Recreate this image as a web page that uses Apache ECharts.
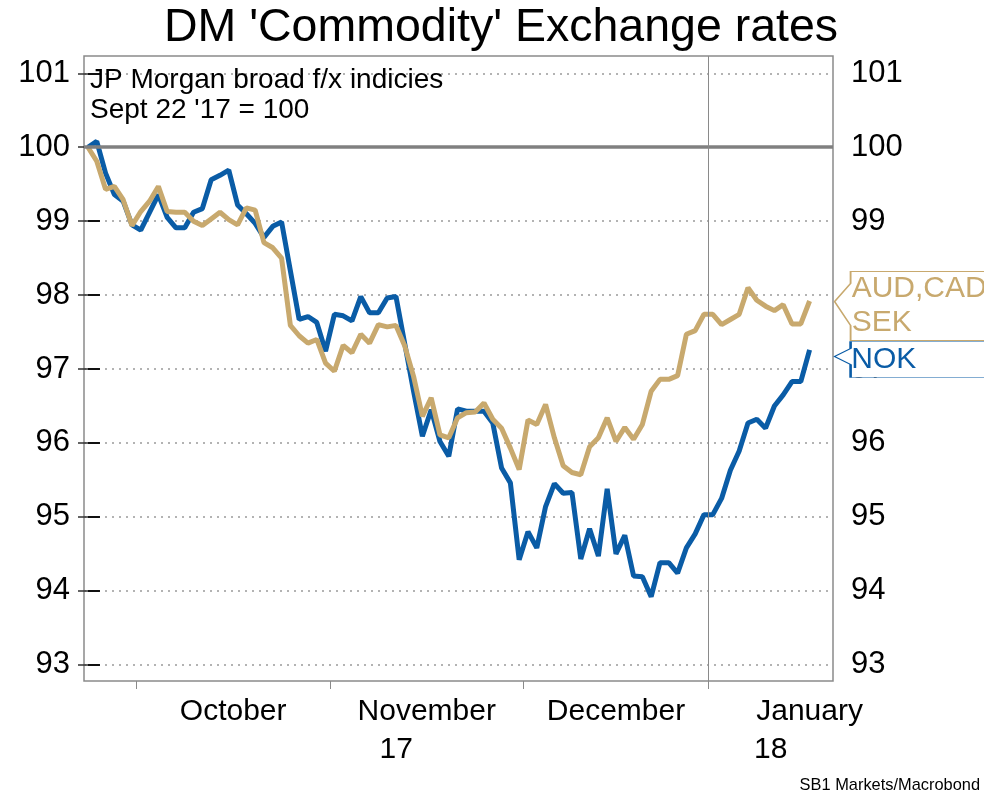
<!DOCTYPE html>
<html><head><meta charset="utf-8">
<script src="https://cdn.jsdelivr.net/npm/echarts@6/dist/echarts.min.js"></script>
<style>html,body{margin:0;padding:0;background:#fff}#c{width:984px;height:795px}</style>
</head><body><div id="c"></div>
<script>
const TITLE = "DM 'Commodity' Exchange rates";
const NOTE = ["JP Morgan broad f/x indicies", "Sept 22 '17 = 100"];
const SOURCE = "SB1 Markets/Macrobond";
const START_DATE = '2017-09-22';
const CAL_END = '2018-01-31';
const seriesNames = ['AUD,CAD\nSEK', 'NOK'];
const monthNames = ['January','February','March','April','May','June','July','August','September','October','November','December'];
const yTicks = [93, 94, 95, 96, 97, 98, 99, 100, 101];

// business-day observations, Sept 22 2017 = 100
const audCadSek = [
 100.00, 99.81, 99.43, 99.47, 99.29, 98.94, 99.13, 99.27, 99.47, 99.13,
 99.12, 99.12, 99.00, 98.94, 99.03, 99.12, 99.02, 98.95, 99.18, 99.15,
 98.71, 98.64, 98.50, 97.59, 97.45, 97.35, 97.40, 97.08, 96.97, 97.32,
 97.22, 97.47, 97.35, 97.60, 97.57, 97.59, 97.31, 96.90, 96.36, 96.61,
 96.11, 96.07, 96.34, 96.41, 96.42, 96.54, 96.32, 96.20, 95.93, 95.64,
 96.31, 96.25, 96.52, 96.07, 95.69, 95.60, 95.57, 95.95, 96.07, 96.34,
 96.02, 96.21, 96.05, 96.25, 96.70, 96.86, 96.86, 96.91, 97.47, 97.52,
 97.74, 97.74, 97.60, 97.67, 97.74, 98.10, 97.93, 97.85, 97.79, 97.87,
 97.61, 97.61, 97.92
];
const nok = [
 100.00, 100.08, 99.65, 99.36, 99.27, 98.95, 98.88, 99.12, 99.36, 99.05,
 98.91, 98.91, 99.12, 99.17, 99.56, 99.62, 99.69, 99.22, 99.10, 98.97,
 98.78, 98.93, 98.99, 98.33, 97.67, 97.71, 97.63, 97.24, 97.74, 97.72,
 97.65, 97.98, 97.76, 97.76, 97.96, 97.98, 97.34, 96.70, 96.09, 96.45,
 96.02, 95.82, 96.46, 96.43, 96.43, 96.43, 96.27, 95.66, 95.46, 94.42,
 94.80, 94.58, 95.14, 95.45, 95.32, 95.33, 94.43, 94.84, 94.47, 95.38,
 94.50, 94.75, 94.20, 94.19, 93.92, 94.38, 94.38, 94.24, 94.58, 94.77,
 95.03, 95.03, 95.25, 95.63, 95.89, 96.27, 96.32, 96.20, 96.50, 96.65,
 96.83, 96.83, 97.26
];

const X_MIN = -0.45, X_MAX = 84.66;
const Y_MIN = 92.78, Y_MAX = 101.234;
const FONT = "'Liberation Sans', Arial, Helvetica, sans-serif";
const GOLD = '#C8A96E', BLUE = '#0A5CA6', FRAME = '#8a8a8a';

// business-day calendar (category positions)
const cal = [];
for (let d = new Date(START_DATE + 'T00:00:00Z'); d <= new Date(CAL_END + 'T00:00:00Z'); d.setUTCDate(d.getUTCDate() + 1)) {
  const wd = d.getUTCDay();
  if (wd !== 0 && wd !== 6) cal.push(d.toISOString().slice(0, 10));
}
const groups = [];
cal.forEach((s, i) => {
  const k = s.slice(0, 7);
  const g = groups[groups.length - 1];
  if (!g || g.key !== k) groups.push({ key: k, first: i, last: i }); else g.last = i;
});
const monthBounds = groups.slice(1).map(g => g.first - 0.5).filter(v => v < X_MAX);
const monthLabels = groups.filter(g => g.first > 0 && g.first < X_MAX)
  .map(g => ({ v: (g.first + g.last) / 2, t: monthNames[+g.key.slice(5, 7) - 1] }));
const yearBounds = [];
for (let i = 1; i < cal.length; i++) if (cal[i].slice(0, 4) !== cal[i - 1].slice(0, 4) && i - 0.5 < X_MAX) yearBounds.push(i - 0.5);
const yearEdges = [X_MIN, ...yearBounds, X_MAX];
const yearLabels = [];
for (let k = 0; k < yearEdges.length - 1; k++) {
  const idx = Math.max(0, Math.ceil(yearEdges[k]));
  yearLabels.push({ v: (yearEdges[k] + yearEdges[k + 1]) / 2, t: cal[idx].slice(2, 4) });
}
const lookup = arr => val => { const o = arr.find(a => Math.abs(a.v - val) < 1e-6); return o ? o.t : ''; };

const last = nok.length - 1;
const chart = echarts.init(document.getElementById('c'), null, { renderer: 'canvas' });
chart.setOption({
  animation: false,
  backgroundColor: '#fff',
  textStyle: { fontFamily: FONT },
  title: [
    { text: TITLE, left: 501, textAlign: 'center', top: 5, padding: 0,
      textStyle: { fontSize: 46.5, fontWeight: 'normal', color: '#000', fontFamily: FONT } },
    { text: NOTE.join('\n'), left: 90, top: 65, padding: 0,
      textStyle: { fontSize: 28, lineHeight: 30, fontWeight: 'normal', color: '#000', fontFamily: FONT } },
    { text: SOURCE, right: 4, top: 777, padding: 0,
      textStyle: { fontSize: 16.4, fontWeight: 'normal', color: '#000', fontFamily: FONT } }
  ],
  grid: { left: 84, right: 151, top: 56, bottom: 114, show: true, borderColor: FRAME, borderWidth: 1.5, containLabel: false },
  xAxis: [
    { type: 'value', min: X_MIN, max: X_MAX, position: 'bottom',
      axisLine: { show: false }, splitLine: { show: false },
      axisTick: { show: true, customValues: monthBounds, length: 8, lineStyle: { color: FRAME, width: 1 } },
      axisLabel: { customValues: monthLabels.map(o => o.v), formatter: lookup(monthLabels), fontSize: 30, color: '#000', margin: 16, fontFamily: FONT } },
    { type: 'value', min: X_MIN, max: X_MAX, position: 'bottom', offset: 38,
      axisLine: { show: false }, splitLine: { show: false }, axisTick: { show: false },
      axisLabel: { customValues: yearLabels.map(o => o.v), formatter: lookup(yearLabels), fontSize: 30, color: '#000', margin: 16, fontFamily: FONT } }
  ],
  yAxis: [
    { type: 'value', position: 'left', min: Y_MIN, max: Y_MAX,
      axisLine: { show: false },
      axisTick: { show: true, customValues: yTicks, length: 10, lineStyle: { color: '#333', width: 1.5 } },
      axisLabel: { customValues: yTicks, margin: 14, fontSize: 31, color: '#000', fontFamily: FONT },
      splitLine: { show: true, lineStyle: { color: '#9a9a9a', width: 1.5, type: [2, 5] } } },
    { type: 'value', position: 'right', min: Y_MIN, max: Y_MAX,
      axisLine: { show: false },
      axisTick: { show: true, customValues: yTicks, length: 12, lineStyle: { color: '#111', width: 2 } },
      axisLabel: { customValues: yTicks, margin: 18, fontSize: 31, color: '#000', fontFamily: FONT },
      splitLine: { show: false } }
  ],
  series: [
    { type: 'line', name: 'ref', data: [], silent: true, z: 1,
      markLine: { silent: true, symbol: ['none', 'none'], label: { show: false }, animation: false,
        data: [
          { yAxis: 100, lineStyle: { color: '#808080', width: 3.5, type: 'solid' } },
          ...yearBounds.map(b => ({ xAxis: b, lineStyle: { color: FRAME, width: 1, type: 'solid' } }))
        ] } },
    { type: 'line', name: seriesNames[1], data: nok.map((v, i) => [i, v]), showSymbol: false, z: 3,
      lineStyle: { color: BLUE, width: 5 }, itemStyle: { color: BLUE },
      markPoint: { silent: true, animation: false,
        data: [{ coord: [last, nok[last]], symbol: 'path://M16,0L170,0L170,36L16,36L16,23L0,15L16,7Z',
          symbolSize: [170, 36], symbolKeepAspect: false, symbolOffset: [110, 9.7],
          itemStyle: { color: '#fff', borderColor: BLUE, borderWidth: 1.2 },
          label: { show: true, position: [18, 2], align: 'left', verticalAlign: 'top', formatter: seriesNames[1],
            color: BLUE, fontSize: 30, lineHeight: 34, fontFamily: FONT } }] } },
    { type: 'line', name: seriesNames[0], data: audCadSek.map((v, i) => [i, v]), showSymbol: false, z: 4,
      lineStyle: { color: GOLD, width: 5 }, itemStyle: { color: GOLD },
      markPoint: { silent: true, animation: false,
        data: [{ coord: [last, audCadSek[last]], symbol: 'path://M16,0L170,0L170,69L16,69L16,54L0,30L16,12Z',
          symbolSize: [170, 69], symbolKeepAspect: false, symbolOffset: [110, 5],
          itemStyle: { color: '#fff', borderColor: GOLD, borderWidth: 1.2 },
          label: { show: true, position: [18, 1], align: 'left', verticalAlign: 'top', formatter: seriesNames[0],
            color: GOLD, fontSize: 30, lineHeight: 34, fontFamily: FONT } }] } }
  ]
});
</script></body></html>
